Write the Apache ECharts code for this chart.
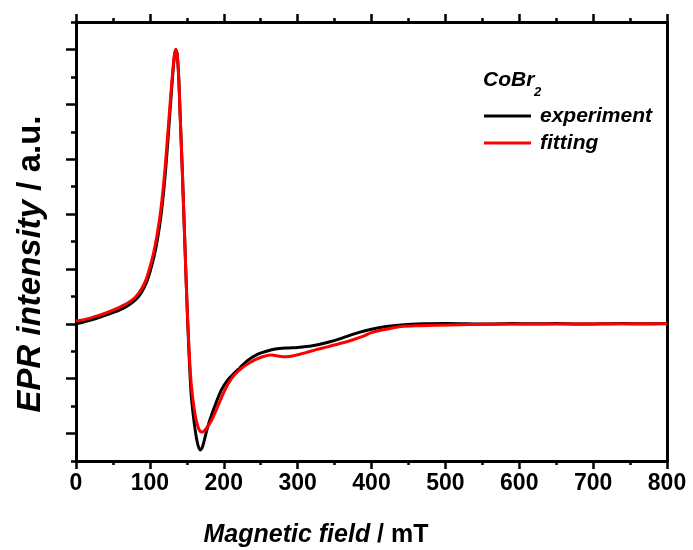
<!DOCTYPE html>
<html>
<head>
<meta charset="utf-8">
<script src="https://cdn.jsdelivr.net/npm/echarts@6/dist/echarts.min.js"></script>
<style>
  html, body { margin: 0; padding: 0; background: #fff; }
  #chart { width: 693px; height: 550px; }
</style>
</head>
<body>
<div id="chart"></div>
<script>
// x tick labels / y tick positions (arbitrary units, one major step = 1)
const xTicks = [0, 100, 200, 300, 400, 500, 600, 700, 800]
const yMajorTicks = [-2, -1, 0, 1, 2, 3, 4, 5]
const yMinorTicks = [-2.5, -1.5, -0.5, 0.5, 1.5, 2.5, 3.5, 4.5, 5.5]

// experiment (black)
const expField = [0, 15, 30, 45, 60, 70, 80, 88, 95, 100, 105, 110, 115, 120, 125, 130, 133, 135, 137, 139, 141, 144, 147, 150, 153, 156, 160, 164, 168, 171, 175, 180, 189, 197, 205, 212, 222, 232, 245, 258, 270, 285, 300, 320, 340, 360, 380, 400, 420, 440, 470, 500, 530, 560, 590, 620, 650, 680, 710, 740, 770, 800]
const expIntensity = [0.0, 0.05, 0.11, 0.18, 0.26, 0.33, 0.43, 0.56, 0.74, 0.94, 1.19, 1.52, 1.97, 2.6, 3.45, 4.38, 4.85, 5.0, 4.9, 4.5, 3.8, 2.75, 1.6, 0.45, -0.55, -1.3, -1.8, -2.15, -2.3, -2.25, -2.05, -1.8, -1.46, -1.2, -1.03, -0.93, -0.8, -0.67, -0.56, -0.5, -0.46, -0.44, -0.43, -0.4, -0.34, -0.26, -0.17, -0.1, -0.05, -0.02, 0.0, 0.005, 0.0, -0.005, 0.005, 0.0, 0.005, -0.005, 0.0, 0.005, 0.0, 0.005]

// fitting (red)
const fitField = [0, 15, 30, 45, 60, 70, 80, 88, 95, 100, 105, 110, 115, 120, 125, 130, 133, 135, 137, 139, 141, 144, 147, 150, 153, 156, 160, 164, 168, 171, 175, 183, 193, 200, 207, 215, 225, 235, 245, 255, 265, 275, 285, 295, 310, 325, 340, 360, 375, 390, 400, 420, 440, 466, 506, 550, 800]
const fitIntensity = [0.05, 0.09, 0.15, 0.22, 0.31, 0.38, 0.48, 0.62, 0.81, 1.03, 1.29, 1.64, 2.1, 2.75, 3.6, 4.45, 4.88, 5.0, 4.9, 4.5, 3.8, 2.75, 1.6, 0.45, -0.45, -1.1, -1.55, -1.83, -1.96, -1.97, -1.93, -1.77, -1.47, -1.25, -1.07, -0.92, -0.8, -0.71, -0.64, -0.59, -0.57, -0.59, -0.6, -0.58, -0.53, -0.47, -0.42, -0.35, -0.29, -0.22, -0.16, -0.1, -0.05, -0.035, -0.02, -0.01, 0.0]

const FONT = 'Liberation Sans, Arial, sans-serif'

const chart = echarts.init(document.getElementById('chart'))

const frameAxis = {
  min: -2.5,
  max: 5.5,
  axisLine: { show: true, onZero: false, lineStyle: { color: '#000', width: 3 } },
  splitLine: { show: false },
  axisLabel: { show: false },
}

chart.setOption({
  animation: false,
  grid: { left: 76, right: 26, top: 22, bottom: 89 },
  legend: {
    left: 484,
    top: 104,
    padding: 0,
    orient: 'vertical',
    icon: 'rect',
    itemWidth: 47,
    itemHeight: 3,
    itemGap: 3,
    textStyle: {
      color: '#000',
      fontFamily: FONT,
      fontWeight: 'bold',
      fontStyle: 'italic',
      fontSize: 21,
      lineHeight: 24,
      padding: [0, 0, 0, 4],
    },
    data: ['experiment', 'fitting'],
  },
  xAxis: [
    {
      type: 'value',
      min: 0,
      max: 800,
      interval: 100,
      position: 'bottom',
      axisLine: { onZero: false, lineStyle: { color: '#000', width: 3 } },
      axisTick: { show: true, inside: false, length: 8, lineStyle: { color: '#000', width: 2.5 } },
      minorTick: { show: true, splitNumber: 2, length: 4, lineStyle: { color: '#000', width: 2.5 } },
      splitLine: { show: false },
      minorSplitLine: { show: false },
      axisLabel: {
        color: '#000',
        fontFamily: FONT,
        fontWeight: 'bold',
        fontSize: 23,
        margin: 11,
        customValues: xTicks,
      },
    },
    {
      type: 'value',
      min: 0,
      max: 800,
      interval: 100,
      position: 'top',
      axisLine: { onZero: false, lineStyle: { color: '#000', width: 3 } },
      axisTick: { show: true, inside: false, length: 8, lineStyle: { color: '#000', width: 2.5 } },
      minorTick: { show: true, splitNumber: 2, length: 4, lineStyle: { color: '#000', width: 2.5 } },
      splitLine: { show: false },
      axisLabel: { show: false },
    },
  ],
  yAxis: [
    Object.assign({}, frameAxis, {
      type: 'value',
      position: 'left',
      axisTick: { show: true, inside: false, length: 10, customValues: yMajorTicks, lineStyle: { color: '#000', width: 2.5 } },
    }),
    Object.assign({}, frameAxis, {
      type: 'value',
      position: 'left',
      axisTick: { show: true, inside: false, length: 5, customValues: yMinorTicks, lineStyle: { color: '#000', width: 2.5 } },
    }),
    Object.assign({}, frameAxis, {
      type: 'value',
      position: 'right',
      axisTick: { show: false },
    }),
  ],
  graphic: [
    {
      type: 'text',
      x: 31,
      y: 264,
      rotation: Math.PI / 2,
      style: {
        text: '{a|EPR intensity}{b| / a.u.}',
        align: 'center',
        verticalAlign: 'middle',
        rich: {
          a: { fontFamily: FONT, fontWeight: 'bold', fontStyle: 'italic', fontSize: 33, fill: '#000' },
          b: { fontFamily: FONT, fontWeight: 'bold', fontSize: 33, fill: '#000' },
        },
      },
    },
    {
      type: 'text',
      x: 316,
      y: 535,
      style: {
        text: '{a|Magnetic field}{b| / mT}',
        align: 'center',
        verticalAlign: 'middle',
        rich: {
          a: { fontFamily: FONT, fontWeight: 'bold', fontStyle: 'italic', fontSize: 25, fill: '#000' },
          b: { fontFamily: FONT, fontWeight: 'bold', fontSize: 25, fill: '#000' },
        },
      },
    },
    {
      type: 'text',
      x: 483,
      y: 70,
      style: {
        text: 'CoBr',
        fontFamily: FONT,
        fontWeight: 'bold',
        fontStyle: 'italic',
        fontSize: 21,
        fill: '#000',
      },
    },
    {
      type: 'text',
      x: 534,
      y: 86,
      style: {
        text: '2',
        fontFamily: FONT,
        fontWeight: 'bold',
        fontStyle: 'italic',
        fontSize: 13,
        fill: '#000',
      },
    },
  ],
  series: [
    {
      name: 'experiment',
      type: 'line',
      xAxisIndex: 0,
      yAxisIndex: 0,
      showSymbol: false,
      symbol: 'none',
      smooth: 0.3,
      color: '#000',
      lineStyle: { color: '#000', width: 3 },
      data: expField.map((f, i) => [f, expIntensity[i]]),
    },
    {
      name: 'fitting',
      type: 'line',
      xAxisIndex: 0,
      yAxisIndex: 0,
      showSymbol: false,
      symbol: 'none',
      smooth: 0.3,
      color: '#ff0000',
      lineStyle: { color: '#ff0000', width: 3 },
      data: fitField.map((f, i) => [f, fitIntensity[i]]),
    },
  ],
})
</script>
</body>
</html>
